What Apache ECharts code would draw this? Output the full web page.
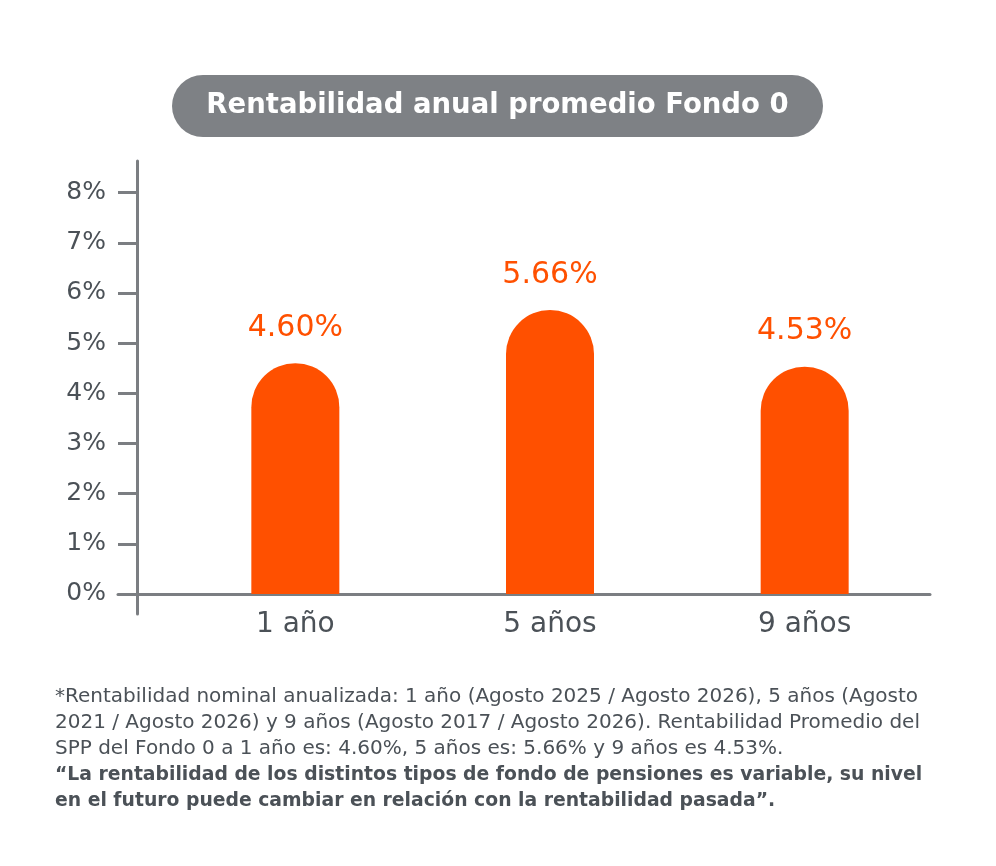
<!DOCTYPE html>
<html>
<head>
  <meta charset="UTF-8">
  <title>Rentabilidad anual promedio Fondo 0</title>
  <script src="https://cdn.jsdelivr.net/npm/echarts@6/dist/echarts.min.js"></script>
  <style>
    body { margin: 0; background: #fff; }
  </style>
</head>
<body>
  <div id="chart" style="width:996px; height:866px;"></div>
  <script>
    // data
    var categories = ['1 año', '5 años', '9 años'];
    var values = [4.60, 5.66, 4.53];
    var yTicks = [0, 1, 2, 3, 4, 5, 6, 7, 8];
    var titleText = 'Rentabilidad anual promedio Fondo 0';
    var noteLines = [
      '*Rentabilidad nominal anualizada: 1 año (Agosto 2025 / Agosto 2026), 5 años (Agosto',
      '2021 / Agosto 2026) y 9 años (Agosto 2017 / Agosto 2026). Rentabilidad Promedio del',
      'SPP del Fondo 0 a 1 año es: 4.60%, 5 años es: 5.66% y 9 años es 4.53%.'
    ];
    var noteBold = [
      '“La rentabilidad de los distintos tipos de fondo de pensiones es variable, su nivel',
      'en el futuro puede cambiar en relación con la rentabilidad pasada”.'
    ];

    var FONT = 'DejaVu Sans';
    var GRAY = '#7b7e82';
    var TEXT = '#4b5157';
    var ORANGE = '#ff5000';

    var chart = echarts.init(document.getElementById('chart'), null, {renderer: 'canvas'});

    var noteText = noteLines.map(function (l) { return '{r|' + l + '}'; })
      .concat(noteBold.map(function (l) { return '{b|' + l + '}'; })).join('\n');

    chart.setOption({
      backgroundColor: '#fff',
      animation: false,
      textStyle: {fontFamily: FONT},
      grid: [
        {left: 168, right: 64, top: 161, bottom: 252},
        {left: 118, right: 66, top: 161, bottom: 252}
      ],
      xAxis: [
        {
          type: 'category',
          gridIndex: 0,
          data: categories,
          axisLine: {show: false},
          axisTick: {show: false},
          axisLabel: {color: TEXT, fontSize: 28, margin: -3, fontFamily: FONT}
        },
        {
          type: 'value',
          gridIndex: 1,
          min: 0, max: 1,
          axisLine: {show: true, onZero: true, lineStyle: {color: GRAY, width: 3}},
          axisTick: {show: false},
          axisLabel: {show: false},
          splitLine: {show: false}
        }
      ],
      yAxis: [
        {
          type: 'value',
          gridIndex: 0,
          min: -0.4,
          max: 8.63,
          offset: 31,
          splitLine: {show: false},
          axisLine: {show: true, lineStyle: {color: GRAY, width: 3}},
          axisTick: {show: true, length: 19, customValues: yTicks, lineStyle: {color: GRAY, width: 3}},
          axisLabel: {
            customValues: yTicks,
            color: TEXT, fontSize: 25, margin: 31, fontFamily: FONT,
            formatter: function (v) { return v + '%'; }
          }
        },
        {
          type: 'value',
          gridIndex: 1,
          min: -0.4,
          max: 8.63,
          show: false
        }
      ],
      series: [{
        type: 'bar',
        xAxisIndex: 0,
        yAxisIndex: 0,
        data: values,
        barWidth: 88,
        z: 3,
        itemStyle: {color: ORANGE, borderRadius: [44, 44, 0, 0]},
        label: {
          show: true,
          position: 'top',
          distance: 20,
          color: ORANGE,
          fontSize: 30,
          fontFamily: FONT,
          formatter: function (p) { return p.value.toFixed(2) + '%'; }
        }
      }],
      graphic: [
        {
          type: 'group',
          left: 172,
          top: 75,
          children: [
            {
              type: 'rect',
              shape: {x: 0, y: 0, width: 651, height: 62, r: 31},
              style: {fill: '#7e8185'}
            },
            {
              type: 'text',
              x: 325.5,
              y: 31,
              style: {
                text: titleText,
                fill: '#fff',
                font: 'bold 27.5px ' + FONT,
                align: 'center',
                verticalAlign: 'middle'
              }
            }
          ]
        },
        {
          type: 'text',
          left: 55,
          top: 687,
          style: {
            text: noteText,
            rich: {
              r: {fontFamily: FONT, fontSize: 20, fill: TEXT, lineHeight: 26},
              b: {fontFamily: FONT, fontSize: 18.8, fontWeight: 'bold', fill: TEXT, lineHeight: 26}
            }
          }
        }
      ]
    });
  </script>
</body>
</html>
